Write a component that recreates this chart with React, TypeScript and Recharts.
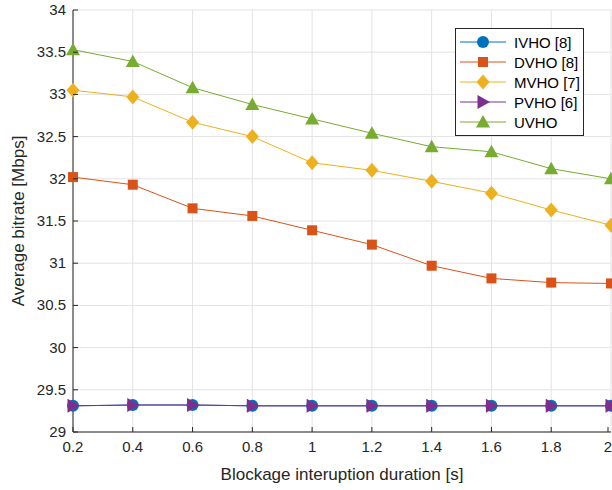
import React from "react";
import {
  LineChart,
  Line,
  XAxis,
  YAxis,
  CartesianGrid,
} from "recharts";

const durations = [0.2, 0.4, 0.6, 0.8, 1.0, 1.2, 1.4, 1.6, 1.8, 2.0];
const ivho = [29.31, 29.32, 29.32, 29.31, 29.31, 29.31, 29.31, 29.31, 29.31, 29.31];
const dvho = [32.02, 31.93, 31.65, 31.56, 31.39, 31.22, 30.97, 30.82, 30.77, 30.76];
const mvho = [33.05, 32.97, 32.67, 32.5, 32.19, 32.1, 31.97, 31.83, 31.63, 31.45];
const pvho = [29.31, 29.32, 29.32, 29.31, 29.31, 29.31, 29.31, 29.31, 29.31, 29.31];
const uvho = [33.53, 33.39, 33.08, 32.88, 32.71, 32.54, 32.38, 32.32, 32.12, 32.0];

const xTicks = [0.2, 0.4, 0.6, 0.8, 1, 1.2, 1.4, 1.6, 1.8, 2];
const yTicks = [29, 29.5, 30, 30.5, 31, 31.5, 32, 32.5, 33, 33.5, 34];

const data = durations.map((d, i) => ({
  d,
  ivho: ivho[i],
  dvho: dvho[i],
  mvho: mvho[i],
  pvho: pvho[i],
  uvho: uvho[i],
}));

type Shape = "circle" | "square" | "diamond" | "right" | "up";

const series: { key: string; name: string; color: string; shape: Shape }[] = [
  { key: "ivho", name: "IVHO [8]", color: "#0072BD", shape: "circle" },
  { key: "dvho", name: "DVHO [8]", color: "#D95319", shape: "square" },
  { key: "mvho", name: "MVHO [7]", color: "#EDB120", shape: "diamond" },
  { key: "pvho", name: "PVHO [6]", color: "#7E2F8E", shape: "right" },
  { key: "uvho", name: "UVHO", color: "#77AC30", shape: "up" },
];

const FONT = "'Liberation Sans', Arial, sans-serif";

const marker = (shape: Shape, color: string, cx: number, cy: number, key?: string) => {
  if (shape === "circle") return <circle key={key} cx={cx} cy={cy} r={6} fill={color} />;
  if (shape === "square")
    return <rect key={key} x={cx - 5} y={cy - 5} width={10} height={10} fill={color} />;
  if (shape === "diamond")
    return (
      <polygon
        key={key}
        points={`${cx},${cy - 7.5} ${cx + 6.5},${cy} ${cx},${cy + 7.5} ${cx - 6.5},${cy}`}
        fill={color}
      />
    );
  if (shape === "right")
    return (
      <polygon
        key={key}
        points={`${cx - 5.5},${cy - 7} ${cx + 7},${cy} ${cx - 5.5},${cy + 7}`}
        fill={color}
      />
    );
  return (
    <polygon
      key={key}
      points={`${cx},${cy - 7} ${cx + 7},${cy + 5.5} ${cx - 7},${cy + 5.5}`}
      fill={color}
    />
  );
};

const YTick = (props: any) => {
  const { x, y, payload } = props;
  return (
    <g>
      <line x1={x + 7} x2={x + 12} y1={y} y2={y} stroke="#262626" />
      <text x={x} y={y} dy={5} textAnchor="end" fontSize={15} fill="#262626" fontFamily={FONT}>
        {payload.value}
      </text>
    </g>
  );
};

const XTick = (props: any) => {
  const { x, y, payload } = props;
  return (
    <g>
      <line x1={x} x2={x} y1={y - 6} y2={y - 11} stroke="#262626" />
      <text x={x} y={y} dy={14} textAnchor="middle" fontSize={15} fill="#262626" fontFamily={FONT}>
        {payload.value}
      </text>
    </g>
  );
};

const LegendBox = () => (
  <div
    style={{
      position: "absolute",
      left: 455,
      top: 28,
      border: "1px solid #262626",
      background: "#fff",
      width: 127,
      padding: "3px 0",
      fontFamily: FONT,
      fontSize: 15,
      color: "#000",
    }}
  >
    {series.map((s) => (
      <div key={s.key} style={{ display: "flex", alignItems: "center", height: 20 }}>
        <svg width={56} height={20} style={{ display: "block" }}>
          <line x1={4} x2={50} y1={10} y2={10} stroke={s.color} strokeWidth={1} />
          {marker(s.shape, s.color, 27, 10)}
        </svg>
        <span style={{ marginLeft: 2 }}>{s.name}</span>
      </div>
    ))}
  </div>
);

export default function App() {
  return (
    <div style={{ position: "absolute", left: 0, top: 0, width: 612, height: 490, background: "#fff" }}>
      <LineChart
        width={612}
        height={490}
        data={data}
        margin={{ top: 10, right: 1, left: 0, bottom: 0 }}
      >
        <CartesianGrid stroke="#e3e3e3" strokeWidth={1} />
        <XAxis
          dataKey="d"
          type="number"
          domain={[0.2, 2]}
          ticks={xTicks}
          height={58}
          stroke="#262626"
          tickLine={false}
          tickSize={0}
          tickMargin={6}
          tick={<XTick />}
          label={{
            value: "Blockage interuption duration [s]",
            position: "insideBottom",
            offset: 10,
            fontSize: 17,
            fill: "#262626",
            fontFamily: FONT,
          }}
        />
        <YAxis
          type="number"
          domain={[29, 34]}
          ticks={yTicks}
          width={73}
          stroke="#262626"
          tickLine={false}
          tickSize={0}
          tickMargin={7}
          tick={<YTick />}
          label={{
            value: "Average bitrate [Mbps]",
            angle: -90,
            position: "insideLeft",
            offset: 18,
            style: { textAnchor: "middle" },
            fontSize: 17,
            fill: "#262626",
            fontFamily: FONT,
          }}
        />
        {series.map((s) => (
          <Line
            key={s.key}
            dataKey={s.key}
            name={s.name}
            type="linear"
            stroke={s.color}
            strokeWidth={1}
            isAnimationActive={false}
            dot={(p: any) => marker(s.shape, s.color, p.cx, p.cy, `${s.key}-${p.index}`)}
            activeDot={false}
          />
        ))}
      </LineChart>
      <LegendBox />
    </div>
  );
}
